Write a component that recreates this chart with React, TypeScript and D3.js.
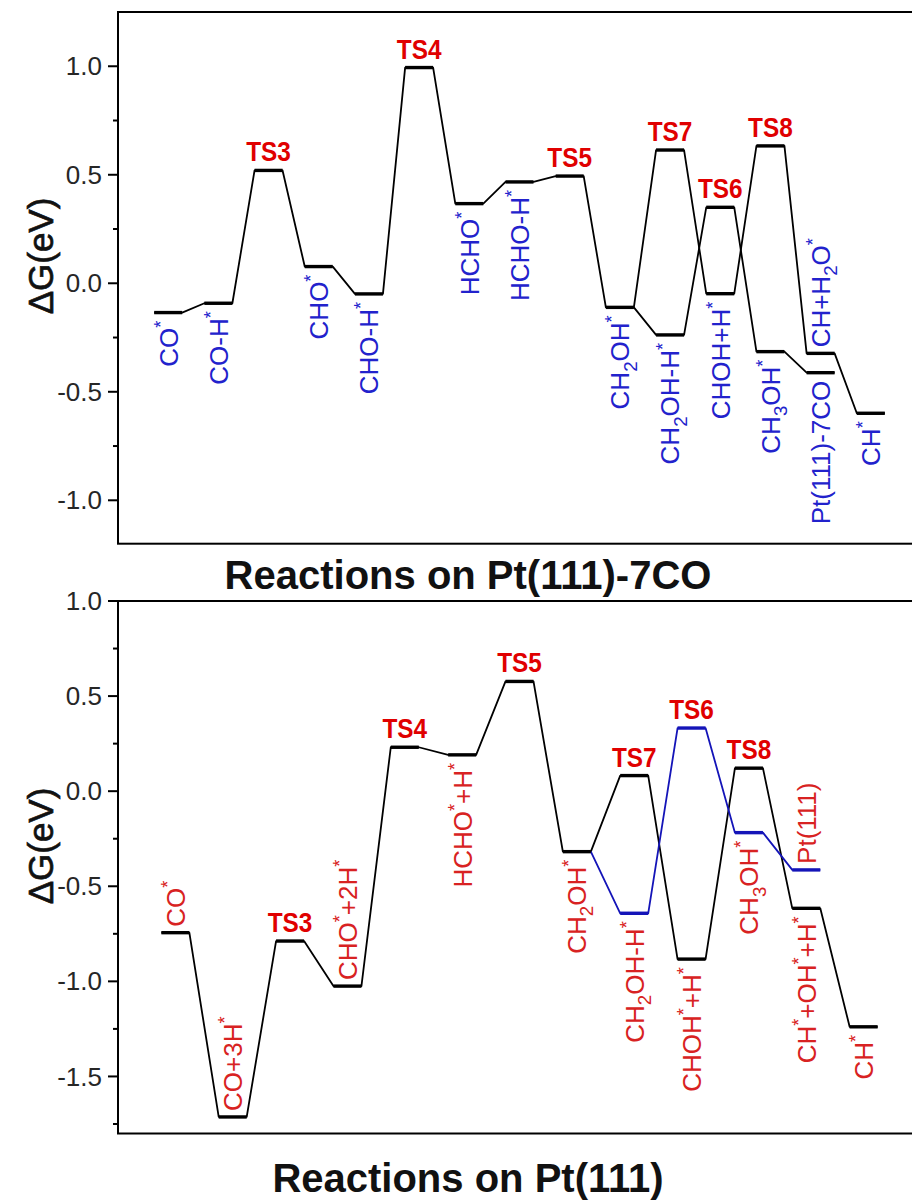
import React from "react";
import * as d3 from "d3";

// ---------- DATA ----------
// Upper panel: Reactions on Pt(111)-7CO
const topMainNames = ["CO^*", "CO-H^*", "TS3", "CHO^*", "CHO-H^*", "TS4", "HCHO^*", "HCHO-H^*", "TS5", "CH_2OH^*"];
const topMainValues = [-0.135, -0.092, 0.52, 0.077, -0.049, 0.994, 0.367, 0.467, 0.494, -0.111];
const topBranchANames = ["TS7", "CHOH+H^*", "TS8", "CH+H_2O^*", "CH^*"];
const topBranchAValues = [0.614, -0.048, 0.633, -0.323, -0.599];
const topBranchBNames = ["CH_2OH-H^*", "TS6", "CH_3OH^*", "Pt(111)-7CO"];
const topBranchBValues = [-0.238, 0.35, -0.315, -0.412];
const topAboveNames = ["CH+H_2O^*"];
const topTickValues = [-1.0, -0.5, 0.0, 0.5, 1.0];
const topTickLabels = ["-1.0", "-0.5", "0.0", "0.5", "1.0"];
const topMinorTicks = [-0.75, -0.25, 0.25, 0.75];
const topTitle = "Reactions on Pt(111)-7CO";

// Lower panel: Reactions on Pt(111)
const botMainNames = ["CO^*", "CO+3H^*", "TS3", "CHO^*+2H^*", "TS4", "HCHO^*+H^*", "TS5", "CH_2OH^*"];
const botMainValues = [-0.744, -1.713, -0.788, -1.025, 0.231, 0.191, 0.577, -0.318];
const botBlackNames = ["TS7", "CHOH^*+H^*", "TS8", "CH^*+OH^*+H^*", "CH^*"];
const botBlackValues = [0.082, -0.883, 0.121, -0.616, -1.239];
const botBlueNames = ["CH_2OH-H^*", "TS6", "CH_3OH^*", "Pt(111)"];
const botBlueValues = [-0.642, 0.332, -0.218, -0.414];
const botAboveNames = ["CO^*", "CO+3H^*", "CHO^*+2H^*", "Pt(111)"];
const botTickValues = [-1.5, -1.0, -0.5, 0.0, 0.5, 1.0];
const botTickLabels = ["-1.5", "-1.0", "-0.5", "0.0", "0.5", "1.0"];
const botMinorTicks = [-1.75, -1.25, -0.75, -0.25, 0.25, 0.75];
const botTitle = "Reactions on Pt(111)";

const yLabel = "ΔG(eV)";

// ---------- STYLE ----------
const FONT = "'Liberation Sans', Arial, sans-serif";
const BLACK = "#000";
const BLUE_LINE = "#1414b8";
const TOP_LABEL = "#2222cc";
const BOT_LABEL = "#d82222";
const TS_RED = "#e00000";
const HALF = 14;
const LABEL_FS = 26;

type Level = { idx: number; value: number; name: string };
type Series = { levels: Level[]; lead?: Level; color: string };

function makeLevels(start: number, values: number[], names: string[]): Level[] {
  return values.map((v, k) => ({ idx: start + k, value: v, name: names[k] }));
}

function parseMarkup(m: string) {
  const parts: { t: string; k: "n" | "sub" | "sup" }[] = [];
  let i = 0;
  while (i < m.length) {
    const c = m[i];
    if ((c === "_" || c === "^") && i + 1 < m.length) {
      parts.push({ t: m[i + 1], k: c === "_" ? "sub" : "sup" });
      i += 2;
    } else {
      const last = parts[parts.length - 1];
      if (last && last.k === "n") last.t += c;
      else parts.push({ t: c, k: "n" });
      i += 1;
    }
  }
  return parts;
}

function ChemText({ markup, fs }: { markup: string; fs: number }) {
  const parts = parseMarkup(markup);
  let cur = 0;
  return (
    <>
      {parts.map((p, i) => {
        const target = p.k === "sub" ? 0.28 * fs : p.k === "sup" ? -0.42 * fs : 0;
        const dy = target - cur;
        cur = target;
        const size = p.k === "n" ? fs : p.k === "sub" ? fs * 0.72 : fs * 0.7;
        return (
          <tspan key={i} dy={dy} fontSize={size}>
            {p.t}
          </tspan>
        );
      })}
    </>
  );
}

type PanelProps = {
  frameTop: number;
  frameBottom: number;
  domain: [number, number];
  slots: number;
  series: Series[];
  aboveNames: string[];
  labelColor: string;
  tickValues: number[];
  tickLabels: string[];
  minorTicks: number[];
  title: string;
  titleY: number;
  yLabelY: number;
};

function Panel(p: PanelProps) {
  const left = 118;
  const right = 921;
  const x = d3.scaleLinear().domain([-1, p.slots]).range([left, right]);
  const y = d3.scaleLinear().domain(p.domain).range([p.frameBottom, p.frameTop]);
  const line = d3.line<[number, number]>();

  return (
    <g>
      {/* frame */}
      <rect x={left} y={p.frameTop} width={right - left} height={p.frameBottom - p.frameTop} fill="none" stroke={BLACK} strokeWidth={2} />
      {/* ticks */}
      {p.tickValues.map((v, i) => (
        <g key={"t" + i}>
          <line x1={left - 10} x2={left} y1={y(v)} y2={y(v)} stroke={BLACK} strokeWidth={2} />
          <text x={left - 16} y={y(v)} dy="0.35em" textAnchor="end" fontFamily={FONT} fontSize={26} fill="#262626">
            {p.tickLabels[i]}
          </text>
        </g>
      ))}
      {p.minorTicks.map((v, i) => (
        <line key={"m" + i} x1={left - 5} x2={left} y1={y(v)} y2={y(v)} stroke={BLACK} strokeWidth={2} />
      ))}
      {/* y label */}
      <text
        transform={`translate(53, ${p.yLabelY}) rotate(-90)`}
        textAnchor="middle"
        fontFamily={FONT}
        fontSize={35}
        fill="#111"
        stroke="#111"
        strokeWidth={0.7}
      >
        {yLabel}
      </text>
      {/* title */}
      <text x={468} y={p.titleY} textAnchor="middle" fontFamily={FONT} fontWeight="bold" fontSize={40} fill="#111">
        {p.title}
      </text>
      {/* connectors */}
      {p.series.map((s, si) => {
        const pts: [number, number][] = [];
        if (s.lead) pts.push([x(s.lead.idx) + HALF, y(s.lead.value)]);
        s.levels.forEach((l) => {
          pts.push([x(l.idx) - HALF, y(l.value)]);
          pts.push([x(l.idx) + HALF, y(l.value)]);
        });
        return <path key={"p" + si} d={line(pts) || ""} fill="none" stroke={s.color} strokeWidth={1.8} strokeLinejoin="round" />;
      })}
      {/* levels */}
      {p.series.map((s, si) =>
        s.levels.map((l, li) => (
          <line key={`l${si}-${li}`} x1={x(l.idx) - HALF} x2={x(l.idx) + HALF} y1={y(l.value)} y2={y(l.value)} stroke={s.color} strokeWidth={3.4} />
        ))
      )}
      {/* labels */}
      {p.series.map((s, si) =>
        s.levels.map((l, li) => {
          const cx = x(l.idx);
          const cy = y(l.value);
          if (l.name.startsWith("TS")) {
            return (
              <text
                key={`n${si}-${li}`}
                transform={`translate(${cx}, ${cy - 9}) scale(0.87, 1)`}
                textAnchor="middle"
                fontFamily={FONT}
                fontWeight="bold"
                fontSize={28}
                fill={TS_RED}
              >
                {l.name}
              </text>
            );
          }
          const above = p.aboveNames.includes(l.name);
          const ty = above ? cy - 6 : cy + 8;
          return (
            <g key={`n${si}-${li}`} transform={`translate(${cx + 0.36 * LABEL_FS}, ${ty}) rotate(-90)`}>
              <text x={0} y={0} textAnchor={above ? "start" : "end"} fontFamily={FONT} fontSize={LABEL_FS} fill={p.labelColor}>
                <ChemText markup={l.name} fs={LABEL_FS} />
              </text>
            </g>
          );
        })
      )}
    </g>
  );
}

export default function App() {
  const topMain = makeLevels(0, topMainValues, topMainNames);
  const topA = makeLevels(10, topBranchAValues, topBranchANames);
  const topB = makeLevels(10, topBranchBValues, topBranchBNames);
  const botMain = makeLevels(0, botMainValues, botMainNames);
  const botBlack = makeLevels(8, botBlackValues, botBlackNames);
  const botBlue = makeLevels(8, botBlueValues, botBlueNames);

  const topSeries: Series[] = [
    { levels: topMain.concat(topA), color: BLACK },
    { levels: topB, lead: topMain[topMain.length - 1], color: BLACK },
  ];
  const botSeries: Series[] = [
    { levels: botMain.concat(botBlack), color: BLACK },
    { levels: botBlue, lead: botMain[botMain.length - 1], color: BLUE_LINE },
  ];

  return (
    <svg width={912} height={1203} style={{ position: "absolute", left: 0, top: 0, display: "block", background: "#fff" }}>
      <rect x={0} y={0} width={912} height={1203} fill="#fff" />
      <Panel
        frameTop={12}
        frameBottom={543.7}
        domain={[-1.2, 1.25]}
        slots={15}
        series={topSeries}
        aboveNames={topAboveNames}
        labelColor={TOP_LABEL}
        tickValues={topTickValues}
        tickLabels={topTickLabels}
        minorTicks={topMinorTicks}
        title={topTitle}
        titleY={589}
        yLabelY={256}
      />
      <Panel
        frameTop={601}
        frameBottom={1133.5}
        domain={[-1.8, 1.0]}
        slots={13}
        series={botSeries}
        aboveNames={botAboveNames}
        labelColor={BOT_LABEL}
        tickValues={botTickValues}
        tickLabels={botTickLabels}
        minorTicks={botMinorTicks}
        title={botTitle}
        titleY={1192}
        yLabelY={846}
      />
    </svg>
  );
}
